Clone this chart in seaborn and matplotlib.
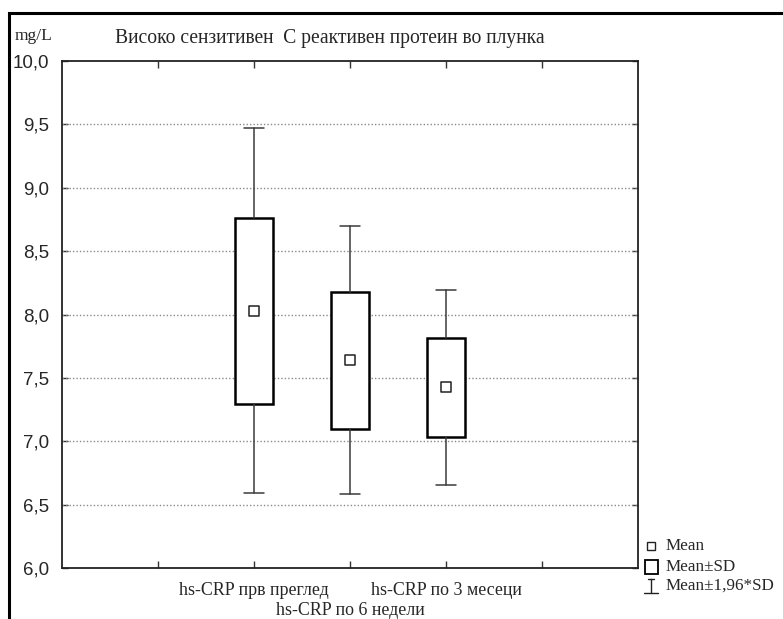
import matplotlib
matplotlib.use("Agg")
import matplotlib.pyplot as plt
from matplotlib.lines import Line2D
from matplotlib.patches import Rectangle
import seaborn as sns
import pandas as pd

# Summary statistics per visit
categories = ["hs-CRP прв преглед", "hs-CRP по 6 недели", "hs-CRP по 3 месеци"]
means = [8.03, 7.64, 7.425]
sds = [0.735, 0.54, 0.393]
y_ticks = [6.0, 6.5, 7.0, 7.5, 8.0, 8.5, 9.0, 9.5, 10.0]
y_tick_labels = ["6,0", "6,5", "7,0", "7,5", "8,0", "8,5", "9,0", "9,5", "10,0"]

sns.set_theme(style="white")
plt.rcParams["font.family"] = ["Liberation Serif", "DejaVu Serif"]

W, H = 783, 619
fig = plt.figure(figsize=(W / 100, H / 100), dpi=100)
fig.patch.set_facecolor("white")

def fx(px):
    return px / W

def fy(py):
    return 1 - py / H

ax = fig.add_axes([fx(62), fy(568), fx(638) - fx(62), fy(61) - fy(568)])
ax.set_facecolor("white")

positions = [1, 2, 3]
df = pd.DataFrame({"pos": positions, "mean": means, "sd": sds, "label": categories})

# Boxes: mean ± SD, whiskers: mean ± 1.96*SD
stats = []
for m, s, lab in zip(df["mean"], df["sd"], df["label"]):
    stats.append(dict(med=m, q1=m - s, q3=m + s,
                      whislo=m - 1.96 * s, whishi=m + 1.96 * s,
                      fliers=[], label=lab))
ax.bxp(stats, positions=positions, widths=0.39, capwidths=0.2,
       showfliers=False, patch_artist=True, manage_ticks=False,
       boxprops=dict(facecolor="white", edgecolor="black", linewidth=1.8),
       whiskerprops=dict(color="#3a3a3a", linewidth=1.1),
       capprops=dict(color="#3a3a3a", linewidth=1.1),
       medianprops=dict(linewidth=0, alpha=0), zorder=3)

# Mean markers
sns.scatterplot(data=df, x="pos", y="mean", marker="s", s=42,
                facecolor="white", edgecolor="#222222", linewidth=1.1,
                ax=ax, zorder=4, legend=False)

ax.set_xlim(-1, 5)
ax.set_ylim(6.0, 10.0)
ax.set_xlabel("")
ax.set_ylabel("")

# Grid: dotted horizontal lines
for v in y_ticks[1:-1]:
    ax.axhline(v, color="#8a8a8a", linestyle=(0, (1, 1.5)), linewidth=1.0, zorder=1)

ax.set_yticks(y_ticks)
ax.set_yticklabels(y_tick_labels, family=["Liberation Sans", "DejaVu Sans"], fontsize=13.5)

# Category labels staggered on two rows: outer ones on major ticks,
# the middle one on a minor tick with a larger pad
ax.set_xticks([0, 1, 3, 4])
ax.set_xticklabels(["", categories[0], categories[2], ""], fontsize=12.9)
ax.set_xticks([2], minor=True)
ax.set_xticklabels([categories[1]], minor=True, fontsize=12.9)
ax.tick_params(axis="x", which="both", direction="in", length=5, width=1,
               color="#333333", top=True, bottom=True)
ax.tick_params(axis="x", which="major", pad=10.2)
ax.tick_params(axis="x", which="minor", pad=24.2)
ax.tick_params(axis="y", direction="in", length=4, width=1, color="#333333",
               left=True, right=True, pad=9)
for sp in ax.spines.values():
    sp.set_visible(True)
    sp.set_color("#222222")
    sp.set_linewidth(1.3)

# Unit and title
fig.text(fx(15), fy(36), "mg/L", fontsize=12.5, ha="left", va="center")
fig.text(fx(115), fy(38), "Високо сензитивен  С реактивен протеин во плунка",
         fontsize=14.1, ha="left", va="center")

# Outer frame
fig.add_artist(Rectangle((fx(8.5), fy(H + 20)), 1.2, fy(12.5) - fy(H + 20),
                         transform=fig.transFigure, fill=False,
                         edgecolor="black", linewidth=2.2))

# Legend
lx = 651
rows = [546, 567, 586]
fig.add_artist(Line2D([fx(lx)], [fy(rows[0])], marker="s", markersize=5.5,
                      markerfacecolor="white", markeredgecolor="#222222",
                      markeredgewidth=1.0, transform=fig.transFigure))
fig.add_artist(Rectangle((fx(645), fy(rows[1] + 7)), fx(658) - fx(645),
                         fy(rows[1] - 7) - fy(rows[1] + 7),
                         transform=fig.transFigure, facecolor="white",
                         edgecolor="black", linewidth=1.3))
fig.add_artist(Line2D([fx(lx), fx(lx)], [fy(rows[2] - 7), fy(rows[2] + 7)],
                      color="#222222", linewidth=1.0, transform=fig.transFigure))
fig.add_artist(Line2D([fx(lx - 3), fx(lx + 3)], [fy(rows[2] - 7), fy(rows[2] - 7)],
                      color="#222222", linewidth=1.0, transform=fig.transFigure))
fig.add_artist(Line2D([fx(lx - 7), fx(lx + 7)], [fy(rows[2] + 7), fy(rows[2] + 7)],
                      color="#222222", linewidth=1.0, transform=fig.transFigure))
for r, txt in zip(rows, ["Mean", "Mean±SD", "Mean±1,96*SD"]):
    fig.text(fx(666), fy(r), txt, fontsize=12.3, ha="left", va="center")

fig.savefig("out.png", dpi=100, facecolor="white")
